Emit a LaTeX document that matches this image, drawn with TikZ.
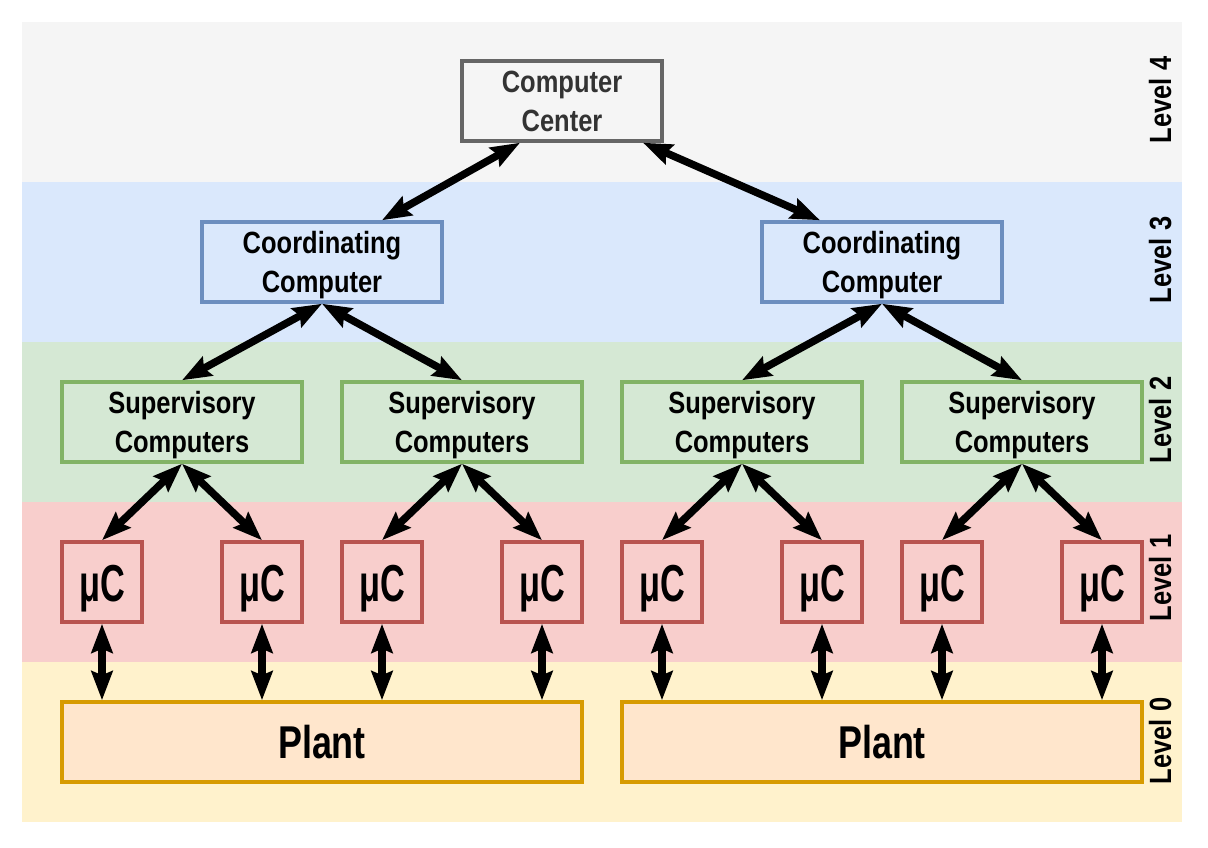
\documentclass[tikz,border=0pt]{standalone}
\usepackage{fontspec}
\setmainfont{Liberation Sans}[FakeStretch=0.83]
\newfontfamily\ucfont{Liberation Sans}[FakeStretch=0.66]
\newfontfamily\plfont{Liberation Sans}[FakeStretch=0.78]
\usetikzlibrary{arrows.meta,calc}
\definecolor{bandgray}{HTML}{F5F5F5}
\definecolor{bandblue}{HTML}{DAE8FC}
\definecolor{bandgreen}{HTML}{D5E8D4}
\definecolor{bandred}{HTML}{F8CECC}
\definecolor{bandyellow}{HTML}{FFF2CC}
\definecolor{ccstroke}{HTML}{666666}
\definecolor{cctext}{HTML}{333333}
\definecolor{costroke}{HTML}{6C8EBF}
\definecolor{sustroke}{HTML}{82B366}
\definecolor{ucstroke}{HTML}{B85450}
\definecolor{plfill}{HTML}{FFE6CC}
\definecolor{plstroke}{HTML}{D79B00}
\begin{document}
\begin{tikzpicture}[x=1pt,y=-1pt,
  basebox/.style={draw, line width=3.5pt, minimum height=80pt, inner sep=0pt, align=center, text depth=0pt,
    font=\bfseries\fontsize{30.7pt}{39pt}\selectfont},
  ccbox/.style={basebox, fill=bandgray, draw=ccstroke, text=cctext, minimum width=200pt},
  cobox/.style={basebox, fill=bandblue, draw=costroke, minimum width=240pt},
  subox/.style={basebox, fill=bandgreen, draw=sustroke, minimum width=240pt},
  ucbox/.style={basebox, fill=bandred, draw=ucstroke, minimum width=80pt,
    font=\ucfont\bfseries\fontsize{52pt}{60pt}\selectfont},
  plbox/.style={basebox, fill=plfill, draw=plstroke, minimum width=520pt,
    font=\plfont\bfseries\fontsize{46pt}{52pt}\selectfont},
  lvl/.style={rotate=90, inner sep=0pt, text depth=0pt, font=\bfseries\fontsize{30.7pt}{39pt}\selectfont},
  biarrow/.style={line width=7.5pt, {Stealth[length=29pt,width=21pt,inset=4pt]}-{Stealth[length=29pt,width=21pt,inset=4pt]}}
]
\useasboundingbox (0,0) rectangle (1208,848);
\fill[white] (0,0) rectangle (1208,848);
% bands
\fill[bandgray]   (22,22)  rectangle (1182,182);
\fill[bandblue]   (22,182) rectangle (1182,342);
\fill[bandgreen]  (22,342) rectangle (1182,502);
\fill[bandred]    (22,502) rectangle (1182,662);
\fill[bandyellow] (22,662) rectangle (1182,822);
% level labels
\node[lvl] (l4) at (1160,100) {Level 4};
\node[lvl] (l3) at (1160,260) {Level 3};
\node[lvl] (l2) at (1160,420) {Level 2};
\node[lvl] (l1) at (1160,578) {Level 1};
\node[lvl] (l0) at (1160,741) {Level 0};
% nodes
\node[ccbox] (cc) at (562,101) {Computer\\Center};
\node[cobox] (co1) at (322,262) {Coordinating\\Computer};
\node[cobox] (co2) at (882,262) {Coordinating\\Computer};
\node[subox] (s1) at (182,422) {Supervisory\\Computers};
\node[subox] (s2) at (462,422) {Supervisory\\Computers};
\node[subox] (s3) at (742,422) {Supervisory\\Computers};
\node[subox] (s4) at (1022,422) {Supervisory\\Computers};
\foreach \i/\x in {1/102,2/262,3/382,4/542,5/662,6/822,7/942,8/1102}{
  \node[ucbox] (u\i) at (\x,582) {\raisebox{-3pt}{μC}};
}
\node[plbox] (p1) at (322,742) {Plant};
\node[plbox] (p2) at (882,742) {Plant};
% connectors
\draw[biarrow] ([xshift=-42pt]cc.south) -- ([xshift=60pt]co1.north);
\draw[biarrow] ([xshift=81pt]cc.south) -- ([xshift=-62pt]co2.north);
\draw[biarrow] (co1.south) -- (s1.north);
\draw[biarrow] (co1.south) -- (s2.north);
\draw[biarrow] (co2.south) -- (s3.north);
\draw[biarrow] (co2.south) -- (s4.north);
\draw[biarrow] (s1.south) -- (u1.north);
\draw[biarrow] (s1.south) -- (u2.north);
\draw[biarrow] (s2.south) -- (u3.north);
\draw[biarrow] (s2.south) -- (u4.north);
\draw[biarrow] (s3.south) -- (u5.north);
\draw[biarrow] (s3.south) -- (u6.north);
\draw[biarrow] (s4.south) -- (u7.north);
\draw[biarrow] (s4.south) -- (u8.north);
\draw[biarrow] (u1.south) -- (p1.north -| u1.south);
\draw[biarrow] (u2.south) -- (p1.north -| u2.south);
\draw[biarrow] (u3.south) -- (p1.north -| u3.south);
\draw[biarrow] (u4.south) -- (p1.north -| u4.south);
\draw[biarrow] (u5.south) -- (p2.north -| u5.south);
\draw[biarrow] (u6.south) -- (p2.north -| u6.south);
\draw[biarrow] (u7.south) -- (p2.north -| u7.south);
\draw[biarrow] (u8.south) -- (p2.north -| u8.south);
\end{tikzpicture}
\end{document}
